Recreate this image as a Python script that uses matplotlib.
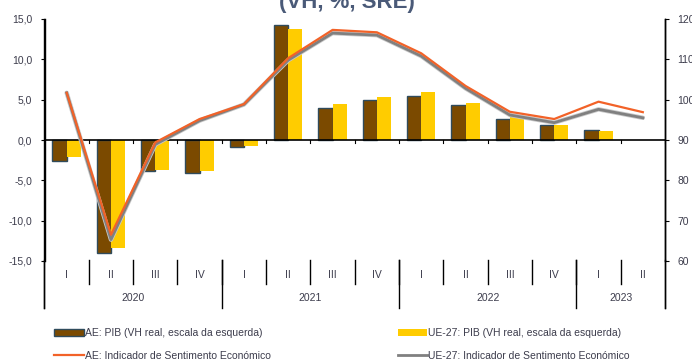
import numpy as np
import matplotlib.pyplot as plt
import matplotlib.lines as mlines
import matplotlib.patches as mpatches

plt.rcParams['font.family'] = ['Liberation Sans Narrow', 'Liberation Sans', 'DejaVu Sans']

quarters = ['I', 'II', 'III', 'IV', 'I', 'II', 'III', 'IV',
            'I', 'II', 'III', 'IV', 'I', 'II']
years = ['2020', '2021', '2022', '2023']
year_len = [4, 4, 4, 2]

# PIB, VH real (%) - left axis
pib_ae = [-2.6, -14.0, -3.9, -4.1, -0.9, 14.2, 4.0, 4.9, 5.5, 4.4, 2.6, 1.9, 1.2, np.nan]
pib_ue = [-2.1, -13.4, -3.7, -3.9, -0.7, 13.8, 4.5, 5.3, 5.9, 4.6, 2.9, 1.8, 1.1, np.nan]

# Indicador de Sentimento Economico - right axis
ise_ae = [101.7, 66.5, 89.4, 95.2, 98.9, 110.3, 117.3, 116.7, 111.5, 103.4, 97.0, 95.2, 99.5, 96.9]
ise_ue = [101.7, 65.3, 88.9, 94.8, 98.8, 109.8, 116.5, 116.0, 110.8, 102.8, 96.2, 94.3, 97.6, 95.5]

c_brown = '#7B4A00'
c_edge = '#2F4B5C'
c_yellow = '#FFCC00'
c_orange = '#F26228'
c_gray = '#808080'
txt = '#3C3C4C'

fig = plt.figure(figsize=(6.92, 3.61), dpi=100)
W, H = 692, 361
x0, x1, ytop, ybot = 44.5, 665, 19, 261
ax = fig.add_axes([x0 / W, 1 - ybot / H, (x1 - x0) / W, (ybot - ytop) / H])
ax2 = ax.twinx()

n = len(quarters)
x = np.arange(n)
bw = 0.32
ax.bar(x - bw / 2, pib_ae, bw, color=c_brown, edgecolor=c_edge, linewidth=1.0, zorder=2)
ax.bar(x + bw / 2, pib_ue, bw, color=c_yellow, linewidth=0, zorder=2)
ax.axhline(0, color='black', lw=1.2, zorder=3)
for b in np.arange(1, n + 1) - 0.5:
    ax.plot([b, b], [0, -0.4], color='black', lw=0.8, zorder=3)

ax2.plot(x, ise_ue, color='#C8C8C8', lw=3.2, solid_capstyle='round', zorder=2)
ax2.plot(x, ise_ue, color=c_gray, lw=2.0, zorder=3)
ax2.plot(x, ise_ae, color=c_orange, lw=1.6, zorder=4)

ax.set_xlim(-0.5, n - 0.5)
ax.set_ylim(-15, 15)
ax2.set_ylim(60, 120)
ax.set_yticks(np.arange(-15, 16, 5))
ax.set_yticklabels([f'{v:.1f}'.replace('.', ',') for v in np.arange(-15, 16, 5)])
ax2.set_yticks(np.arange(60, 121, 10))
ax.set_xticks([])
for a in (ax, ax2):
    a.spines['top'].set_visible(False)
    a.spines['bottom'].set_visible(False)
    a.tick_params(axis='y', labelsize=7.5, labelcolor=txt, length=3, width=0.8, pad=6)
ax.spines['left'].set_linewidth(1.0)
ax2.spines['right'].set_linewidth(1.0)
ax2.spines['left'].set_visible(False)
ax.set_zorder(ax2.get_zorder() - 1)
ax.patch.set_visible(False)

# multi-level category axis
tr = ax.get_xaxis_transform()
def fy(py):
    return (ybot - py) / (ybot - ytop)

for b in np.arange(1, n) - 0.5:
    ax.plot([b, b], [fy(260), fy(284)], color='black', lw=1.0, transform=tr, clip_on=False)
start = -0.5
for y, k in zip(years, year_len):
    ax.plot([start, start], [fy(260), fy(308)], color='black', lw=1.0, transform=tr, clip_on=False)
    ax.text(start + k / 2, fy(298), y, transform=tr, ha='center', va='center', fontsize=7.5, color=txt)
    start += k
ax.plot([n - 0.5, n - 0.5], [fy(260), fy(308)], color='black', lw=1.0, transform=tr, clip_on=False)
ax.plot([-0.5, -0.5], [1, fy(308)], color='black', lw=1.0, transform=tr, clip_on=False)
ax.plot([n - 0.5, n - 0.5], [1, fy(308)], color='black', lw=1.0, transform=tr, clip_on=False)
for xi, q in zip(x, quarters):
    ax.text(xi, fy(275), q, transform=tr, ha='center', va='center', fontsize=7.5, color=txt)

# title is cut by the top edge in the reference
fig.text(347 / W, 1 - 8 / H, '(VH, %, SRE)', ha='center', va='baseline',
         fontsize=16, fontweight='bold', color='#4A5A78')

# legend (column-major order)
handles = [
    mpatches.Patch(facecolor=c_brown, edgecolor=c_edge, label='AE: PIB (VH real, escala da esquerda)'),
    mlines.Line2D([], [], color=c_orange, lw=1.6, label='AE: Indicador de Sentimento Económico'),
    mpatches.Patch(facecolor=c_yellow, label='UE-27: PIB (VH real, escala da esquerda)'),
    mlines.Line2D([], [], color=c_gray, lw=2.0, label='UE-27: Indicador de Sentimento Económico'),
]
fig.legend(handles=handles, ncol=2, loc='upper left', bbox_to_anchor=(45 / W, 1 - 319 / H),
           frameon=False, fontsize=7.5, labelcolor=txt, handlelength=2.8, handleheight=0.7,
           handletextpad=0.1, columnspacing=12.2, labelspacing=1.2)

fig.savefig('out.png', dpi=100)
